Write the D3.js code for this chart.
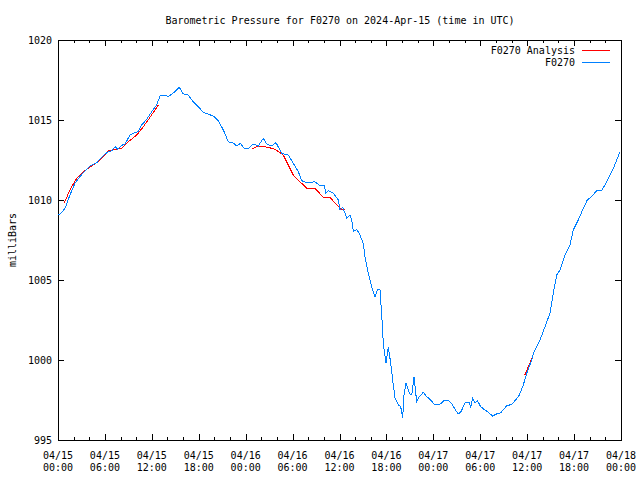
<!DOCTYPE html>
<html><head><meta charset="utf-8">
<script src="https://cdn.jsdelivr.net/npm/d3@7"></script>
<style>
body{margin:0;background:#fff}
svg{display:block}
text{font-family:"DejaVu Sans Mono","Liberation Mono",monospace;font-size:10px;fill:#000}
</style>
</head><body><svg id="c" width="640" height="480"></svg>
<script>
const title = "Barometric Pressure for F0270 on 2024-Apr-15 (time in UTC)";
const yLabel = "milliBars";
const seriesNames = ["F0270 Analysis", "F0270"];
const seriesColors = ["#ff0000", "#0080ff"];
const tickDates = ["04/15","04/15","04/15","04/15","04/16","04/16","04/16","04/16","04/17","04/17","04/17","04/17","04/18"];
const tickTimes = ["00:00","06:00","12:00","18:00","00:00","06:00","12:00","18:00","00:00","06:00","12:00","18:00","00:00"];
const tickHours = [0,6,12,18,24,30,36,42,48,54,60,66,72];
const yTicks = [995,1000,1005,1010,1015,1020];

// observed F0270 (hours since 04/15 00:00 UTC, mb)
const obsHours = [0,0.26,0.90,1.53,2.17,2.81,3.45,4.09,4.95,5.59,6.23,6.87,7.29,7.67,8.15,8.57,9.21,9.85,10.23,10.70,11.34,11.98,12.62,13.04,13.68,14.11,14.96,15.51,16.02,16.66,17.30,17.94,18.58,19.22,19.86,20.50,21.14,21.78,22.42,22.85,23.31,23.79,24.43,24.98,25.62,26.26,26.69,27.33,27.88,28.61,29.45,30.09,30.73,31.17,31.81,32.87,33.51,34.02,34.27,34.57,35.21,35.85,36.07,36.41,36.70,36.92,37.34,37.56,37.77,38.20,38.62,39.04,39.26,39.68,40.12,40.54,40.84,41.18,41.40,41.60,41.95,42.24,42.55,42.88,43.10,43.52,43.83,44.08,44.25,44.51,44.93,45.24,45.53,45.87,46.21,46.72,47.15,47.57,48.21,48.85,49.37,49.91,50.35,50.77,51.19,51.54,52.05,52.60,52.78,53.04,53.33,53.63,54.06,54.48,54.90,55.59,56.11,56.62,57.38,58.02,58.45,59.00,59.51,59.94,60.58,60.79,61.64,62.28,62.92,63.34,63.78,64.20,64.84,65.48,65.90,66.54,67.18,67.69,68.25,68.89,69.53,70.17,71.02,71.87];
const obsPressure = [1009.06,1009.11,1009.48,1010.31,1011.04,1011.46,1011.83,1012.13,1012.33,1012.67,1012.96,1013.08,1013.33,1013.17,1013.42,1013.50,1014.06,1014.21,1014.27,1014.69,1015.04,1015.52,1015.94,1016.50,1016.56,1016.46,1016.77,1017.04,1016.63,1016.56,1016.14,1015.83,1015.48,1015.36,1015.25,1014.94,1014.38,1013.64,1013.56,1013.38,1013.54,1013.25,1013.25,1013.50,1013.38,1013.86,1013.50,1013.38,1013.58,1012.92,1012.81,1012.29,1011.77,1011.21,1011.08,1011.14,1010.88,1010.94,1010.42,1010.58,1010.42,1010.00,1009.38,1009.54,1009.17,1008.86,1009.06,1008.75,1008.02,1008.17,1007.81,1007.29,1006.46,1005.42,1004.58,1003.96,1004.38,1004.38,1002.81,1001.04,999.79,1000.83,999.79,998.44,997.61,997.19,997.08,996.36,997.81,998.58,997.92,997.81,998.96,997.39,997.71,997.98,997.71,997.54,997.19,997.23,997.46,997.46,997.29,996.92,996.63,996.77,997.33,997.33,997.08,997.61,997.33,997.46,997.08,996.92,996.77,996.50,996.63,996.71,997.13,997.23,997.46,997.81,998.44,999.17,1000.00,1000.42,1001.25,1002.08,1002.92,1004.17,1005.31,1005.63,1006.56,1007.19,1008.13,1008.75,1009.48,1010.00,1010.21,1010.58,1010.58,1011.14,1011.98,1013.00];

// analysis segments (null separates segments)
const anaHours = [0.77,1.53,2.39,3.24,4.31,5.37,6.43,7.29,8.15,8.99,10.06,10.91,11.77,12.83,null,24.77,25.62,26.89,27.75,28.81,29.45,30.09,30.95,31.81,32.87,33.93,34.79,35.64,36.28,36.70,null,59.69,60.20,60.75];
const anaPressure = [1009.79,1010.63,1011.36,1011.77,1012.13,1012.50,1013.06,1013.17,1013.23,1013.64,1014.06,1014.58,1015.17,1015.94,null,1013.17,1013.38,1013.29,1013.17,1012.81,1012.19,1011.56,1011.14,1010.73,1010.73,1010.17,1010.17,1009.69,1009.42,1009.38,null,999.06,999.63,1000.31];

const L = 58, R = 621, T = 40, B = 440;
const svg = d3.select("#c");
const x = d3.scaleLinear().domain([0, 72]).range([L, R]);
const y = d3.scaleLinear().domain([995, 1020]).range([B, T]);

// title
svg.append("text").attr("x", 340).attr("y", 20).attr("text-anchor", "middle")
  .attr("dominant-baseline", "central").text(title);
// y label
svg.append("text").attr("transform", "translate(12,240) rotate(-90)")
  .attr("text-anchor", "middle").attr("dominant-baseline", "central").text(yLabel);

function clean(g){ g.select(".domain").remove(); g.selectAll("text").remove(); g.selectAll("line").attr("stroke","#000").attr("shape-rendering","crispEdges"); }
const minorHours = d3.range(0, 73, 2).filter(h => h % 6 !== 0);

svg.append("g").attr("transform", `translate(0,${B})`).call(d3.axisBottom(x).tickValues(tickHours).tickSize(-6)).call(clean);
svg.append("g").attr("transform", `translate(0,${B})`).call(d3.axisBottom(x).tickValues(minorHours).tickSize(-3)).call(clean);
svg.append("g").attr("transform", `translate(0,${T})`).call(d3.axisTop(x).tickValues(tickHours).tickSize(-6)).call(clean);
svg.append("g").attr("transform", `translate(0,${T})`).call(d3.axisTop(x).tickValues(minorHours).tickSize(-3)).call(clean);
svg.append("g").attr("transform", `translate(${L},0)`).call(d3.axisLeft(y).tickValues(yTicks).tickSize(-6)).call(clean);
svg.append("g").attr("transform", `translate(${R},0)`).call(d3.axisRight(y).tickValues(yTicks).tickSize(-6)).call(clean);

// frame
svg.append("rect").attr("x", L + 0.5).attr("y", T + 0.5).attr("width", R - L).attr("height", B - T)
  .attr("fill", "none").attr("stroke", "#000").attr("stroke-width", 1);

// y tick labels
svg.append("g").selectAll("text").data(yTicks).join("text")
  .attr("x", L - 6).attr("y", d => y(d)).attr("text-anchor", "end").attr("dominant-baseline", "central")
  .text(d => d);
// x tick labels
const xl = svg.append("g").selectAll("g").data(tickHours).join("g");
xl.append("text").attr("x", d => x(d)).attr("y", 455).attr("text-anchor", "middle").attr("dominant-baseline", "central")
  .text((d, i) => tickDates[i]);
xl.append("text").attr("x", d => x(d)).attr("y", 467).attr("text-anchor", "middle").attr("dominant-baseline", "central")
  .text((d, i) => tickTimes[i]);

// lines
const obs = obsHours.map((h, i) => ({h, p: obsPressure[i]}));
const ana = anaHours.map((h, i) => ({h, p: anaPressure[i]}));
const line = d3.line().defined(d => d.h != null && d.p != null).x(d => x(d.h)).y(d => y(d.p));
svg.append("path").datum(ana).attr("d", line).attr("fill", "none").attr("stroke", seriesColors[0]).attr("stroke-width", 1).attr("shape-rendering", "crispEdges");
svg.append("path").datum(obs).attr("d", line).attr("fill", "none").attr("stroke", seriesColors[1]).attr("stroke-width", 1).attr("shape-rendering", "crispEdges");

// legend
const leg = svg.append("g").selectAll("g").data(seriesNames).join("g");
leg.append("text").attr("x", 575).attr("y", (d, i) => 50 + i * 12).attr("text-anchor", "end").attr("dominant-baseline", "central").text(d => d);
leg.append("line").attr("x1", 582).attr("x2", 610).attr("y1", (d, i) => 50.5 + i * 12).attr("y2", (d, i) => 50.5 + i * 12)
  .attr("stroke", (d, i) => seriesColors[i]).attr("stroke-width", 1).attr("shape-rendering", "crispEdges");
</script>
</body></html>
